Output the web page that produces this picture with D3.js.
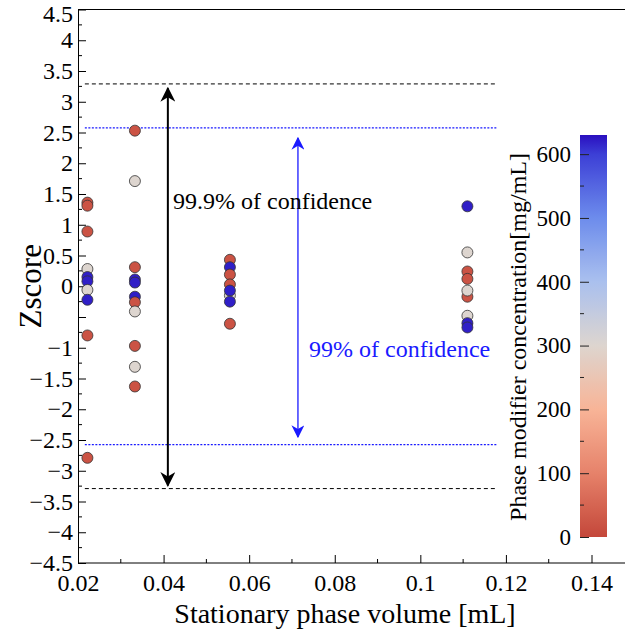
<!DOCTYPE html>
<html><head><meta charset="utf-8">
<script src="https://cdn.jsdelivr.net/npm/d3@7"></script>
<style>body{margin:0;background:#fff}svg text{font-family:"Liberation Serif","Tinos","Times New Roman","DejaVu Serif",serif}</style>
</head><body><svg id="c" width="625" height="636"></svg>
<script>
// Data
const volumes = [0.0222, 0.0333, 0.0555, 0.111];
const zCol1 = [1.36, 1.31, 0.89, 0.28, 0.15, 0.08, -0.06, -0.22, -0.80, -2.79];
const cCol1 = [20, 20, 20, 300, 620, 620, 300, 620, 20, 20];
const zCol2 = [2.53, 1.71, 0.31, 0.11, 0.06, -0.17, -0.26, -0.41, -0.97, -1.31, -1.63];
const cCol2 = [20, 300, 20, 620, 620, 620, 20, 300, 20, 300, 20];
const zCol3 = [0.43, 0.31, 0.19, 0.03, -0.15, -0.07, -0.25, -0.61];
const cCol3 = [20, 620, 20, 20, 300, 620, 620, 20];
const zCol4 = [1.30, 0.55, 0.24, 0.12, -0.17, -0.07, -0.48, -0.60, -0.67];
const cCol4 = [620, 300, 20, 20, 20, 300, 300, 620, 620];
const xTicks = [0.02, 0.04, 0.06, 0.08, 0.1, 0.12, 0.14];
const yTicks = [-4.5,-4,-3.5,-3,-2.5,-2,-1.5,-1,-0.5,0,0.5,1,1.5,2,2.5,3,3.5,4,4.5];
const yTickLabels = ["−4.5","−4","−3.5","−3","−2.5","−2","−1.5","−1","","0","0.5","1","1.5","2","2.5","3","3.5","4","4.5"];
const cbTicks = [0,100,200,300,400,500,600];
const limits999 = [3.29, -3.29];
const limits99 = [2.576, -2.576];

const FONT = '"Liberation Serif","Tinos","Times New Roman","DejaVu Serif",serif';
const svg = d3.select("#c");
const x = d3.scaleLinear().domain([0.02, 0.14]).range([78, 591.5]);
const y = d3.scaleLinear().domain([-4.5, 4.5]).range([563, 9.5]);

const cStops = ["#c4473a","#e6826a","#f8b497","#ddd5cf","#aac0ee","#6d8cec","#3c3fd6","#2a0fbf"];
const cDom = [0,100,200,300,400,500,600,630];
const color = d3.scaleLinear().domain(cDom).range(cStops).interpolate(d3.interpolateRgb).clamp(true);

// frame line (top)
svg.append("line").attr("x1",x(0.02)).attr("x2",625).attr("y1",y(4.5)).attr("y2",y(4.5)).attr("stroke","#000").attr("stroke-width",1);

// axes
const xAxis = d3.axisBottom(x).tickValues(xTicks).tickFormat(d=>String(+d.toFixed(2))).tickSizeInner(-8).tickSizeOuter(0).tickPadding(11);
const gx = svg.append("g").attr("transform",`translate(0,${y(-4.5)})`).call(xAxis).attr("font-family",FONT);
gx.select(".domain").remove();
svg.append("line").attr("x1",x(0.02)).attr("x2",625).attr("y1",y(-4.5)).attr("y2",y(-4.5)).attr("stroke","#000");
gx.selectAll("text").attr("font-size",24).attr("fill","#000").style("font-family",FONT);
svg.append("g").selectAll("line").data([0.03,0.05,0.07,0.09,0.11,0.13,0.15]).join("line")
  .attr("x1",d=>x(d)).attr("x2",d=>x(d)).attr("y1",y(-4.5)).attr("y2",y(-4.5)-4).attr("stroke","#000");

const yAxis = d3.axisLeft(y).tickValues(yTicks).tickFormat((d,i)=>yTickLabels[i]).tickSizeInner(-8).tickSizeOuter(0).tickPadding(5);
const gy = svg.append("g").attr("transform",`translate(${x(0.02)},0)`).call(yAxis).attr("font-family",FONT);
gy.selectAll("text").attr("font-size",24).attr("fill","#000").style("font-family",FONT);
gy.selectAll(".tick").filter(d=>d===4.5).select("text").attr("dy","0.5em");
gy.select(".domain").attr("stroke","#000");
const minorY = d3.range(-4.25, 4.5, 0.5);
svg.append("g").selectAll("line").data(minorY).join("line")
  .attr("x1",x(0.02)).attr("x2",x(0.02)+4).attr("y1",d=>y(d)).attr("y2",d=>y(d)).attr("stroke","#000");

// limit lines
svg.append("g").selectAll("line").data(limits999).join("line")
  .attr("x1",x(0.0216)).attr("x2",x(0.118)).attr("y1",d=>y(d)).attr("y2",d=>y(d))
  .attr("stroke","#000").attr("stroke-dasharray","4,3").attr("stroke-width",1);
svg.append("g").selectAll("line").data(limits99).join("line")
  .attr("x1",x(0.0216)).attr("x2",x(0.118)).attr("y1",d=>y(d)).attr("y2",d=>y(d))
  .attr("stroke","#1a1aff").attr("stroke-dasharray","2,1.5").attr("stroke-width",1.3);

// arrows
const defs = svg.append("defs");
defs.append("marker").attr("id","ab").attr("viewBox","0 0 10 10").attr("refX",9).attr("refY",5)
  .attr("markerWidth",15).attr("markerHeight",15).attr("orient","auto-start-reverse").attr("markerUnits","userSpaceOnUse")
  .append("path").attr("d","M0,0L10,5L0,10L3,5Z").attr("fill","#000");
defs.append("marker").attr("id","bb").attr("viewBox","0 0 10 10").attr("refX",9).attr("refY",5)
  .attr("markerWidth",13).attr("markerHeight",13).attr("orient","auto-start-reverse").attr("markerUnits","userSpaceOnUse")
  .append("path").attr("d","M0,0L10,5L0,10L3,5Z").attr("fill","#1a1aff");
svg.append("line").attr("x1",x(0.041)).attr("x2",x(0.041)).attr("y1",y(3.22)).attr("y2",y(-3.24))
  .attr("stroke","#000").attr("stroke-width",2).attr("marker-start","url(#ab)").attr("marker-end","url(#ab)");
svg.append("line").attr("x1",x(0.0714)).attr("x2",x(0.0714)).attr("y1",y(2.41)).attr("y2",y(-2.45))
  .attr("stroke","#1a1aff").attr("stroke-width",1.3).attr("marker-start","url(#bb)").attr("marker-end","url(#bb)");

svg.append("text").attr("x",173).attr("y",209).style("font-family",FONT).attr("font-size",24).attr("fill","#000").text("99.9% of confidence");
svg.append("text").attr("x",309).attr("y",357).style("font-family",FONT).attr("font-size",24).attr("fill","#1a1aff").text("99% of confidence");

// points
const cols = [[zCol1,cCol1],[zCol2,cCol2],[zCol3,cCol3],[zCol4,cCol4]];
const pts = [];
cols.forEach((c,i)=>c[0].forEach((z,j)=>pts.push({v:volumes[i], z, c:c[1][j]})));
svg.append("g").selectAll("circle").data(pts).join("circle")
  .attr("cx",d=>x(d.v)).attr("cy",d=>y(d.z)).attr("r",5.5)
  .attr("fill",d=>color(d.c)).attr("stroke","#333").attr("stroke-width",0.8);

// axis titles
svg.append("text").attr("transform",`translate(41,${y(0)}) rotate(-90)`).attr("text-anchor","middle")
  .style("font-family",FONT).attr("font-size",31).attr("fill","#000").text("Zscore");
svg.append("text").attr("x",345).attr("y",623).attr("text-anchor","middle").style("font-family",FONT).attr("font-size",28).attr("fill","#000")
  .text("Stationary phase volume [mL]");

// colorbar
const cb = d3.scaleLinear().domain([0,630]).range([537,135]);
const grad = defs.append("linearGradient").attr("id","cg").attr("x1",0).attr("x2",0).attr("y1",1).attr("y2",0);
d3.range(0,631,10).forEach(v=>grad.append("stop").attr("offset",v/630).attr("stop-color",color(v)));
svg.append("rect").attr("x",580).attr("y",cb(630)).attr("width",27).attr("height",cb(0)-cb(630)).attr("fill","url(#cg)");
const cbAxis = d3.axisLeft(cb).tickValues(cbTicks).tickSizeInner(-9).tickSizeOuter(0).tickPadding(9);
const gcb = svg.append("g").attr("transform","translate(580,0)").call(cbAxis).attr("font-family",FONT);
gcb.select(".domain").remove();
gcb.selectAll("text").attr("font-size",23).attr("fill","#000").style("font-family",FONT);
gcb.selectAll(".tick line").attr("stroke","#222");
svg.append("g").selectAll("line").data([50,150,250,350,450,550]).join("line")
  .attr("x1",580).attr("x2",584).attr("y1",d=>cb(d)).attr("y2",d=>cb(d)).attr("stroke","#222");
svg.append("text").attr("transform","translate(526,337) rotate(-90)").attr("text-anchor","middle")
  .style("font-family",FONT).attr("font-size",24).attr("fill","#000").text("Phase modifier concentration[mg/mL]");
</script></body></html>
